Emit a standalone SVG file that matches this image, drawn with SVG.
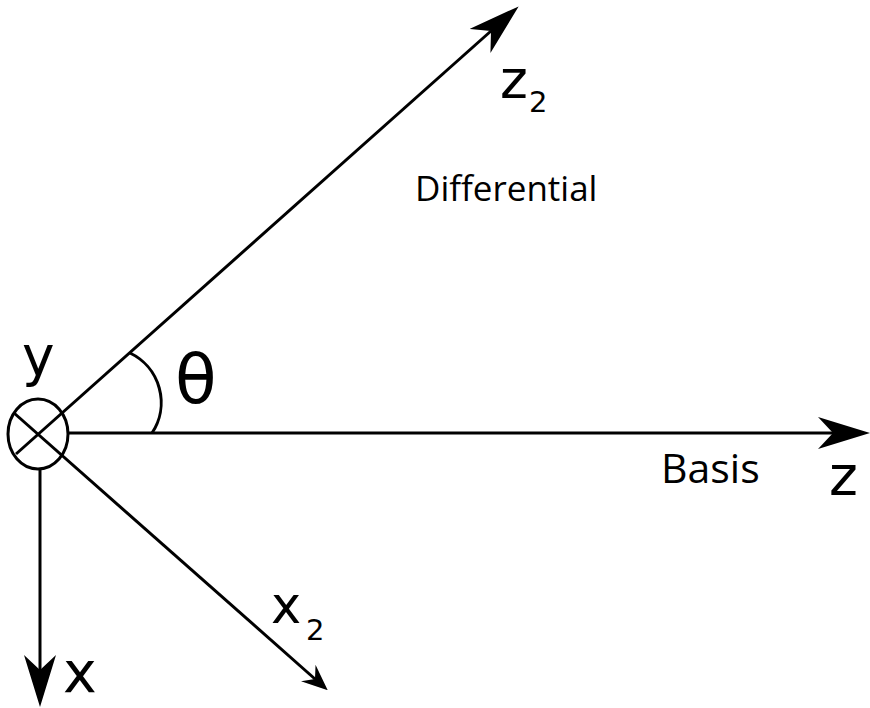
<svg xmlns="http://www.w3.org/2000/svg" width="870" height="708" viewBox="0 0 870 708">
  <defs>
    <marker id="bigArrow" markerUnits="userSpaceOnUse" viewBox="0 0 52 32" markerWidth="52" markerHeight="32" refX="15" refY="16" orient="auto">
      <path d="M52,16 L0,0 L15,16 L0,32 Z" fill="#000"/>
    </marker>
    <marker id="smallArrow" markerUnits="userSpaceOnUse" viewBox="0 0 26 22" markerWidth="26" markerHeight="22" refX="9" refY="11" orient="auto">
      <path d="M26,11 L0,0 L9,11 L0,22 Z" fill="#000"/>
    </marker>
  </defs>
  <style>
    .ln { stroke: #000; stroke-width: 3; fill: none; }
    .math { font-family: "DejaVu Sans", sans-serif; fill: #000; }
    .word { font-family: "Open Sans", "Noto Sans", sans-serif; fill: #000; }
  </style>
  <rect width="870" height="708" fill="#fff"/>
  <g id="connectors">
    <line id="axis-z" class="ln" x1="68" y1="433" x2="833" y2="433" marker-end="url(#bigArrow)"/>
    <line id="axis-x" class="ln" x1="40" y1="469" x2="40" y2="670" marker-end="url(#bigArrow)"/>
    <line id="axis-z2" class="ln" x1="16" y1="454" x2="491" y2="31" marker-end="url(#bigArrow)"/>
    <line id="axis-x2" class="ln" x1="14" y1="413" x2="315" y2="679" marker-end="url(#smallArrow)"/>
    <path id="angle-arc" class="ln" d="M130,353 A55,55 0 0 1 152,433"/>
  </g>
  <g id="node-y">
    <ellipse class="ln" cx="38" cy="434" rx="30" ry="35"/>
    <text class="math" x="22" y="375" font-size="55">y</text>
  </g>
  <g id="label-theta">
    <text class="math" x="175" y="403" font-size="68">θ</text>
  </g>
  <g id="label-z2">
    <text class="math" x="500" y="98" font-size="53">z</text>
    <text class="math" x="529" y="112" font-size="29">2</text>
  </g>
  <g id="label-differential">
    <text class="word" x="415" y="201" font-size="35">Differential</text>
  </g>
  <g id="label-basis">
    <text class="word" x="661" y="483" font-size="41">Basis</text>
  </g>
  <g id="label-z">
    <text class="math" x="829" y="495" font-size="55">z</text>
  </g>
  <g id="label-x2">
    <text class="math" x="271" y="623" font-size="51">x</text>
    <text class="math" x="306" y="640" font-size="29">2</text>
  </g>
  <g id="label-x">
    <text class="math" x="63" y="692" font-size="57">x</text>
  </g>
</svg>
